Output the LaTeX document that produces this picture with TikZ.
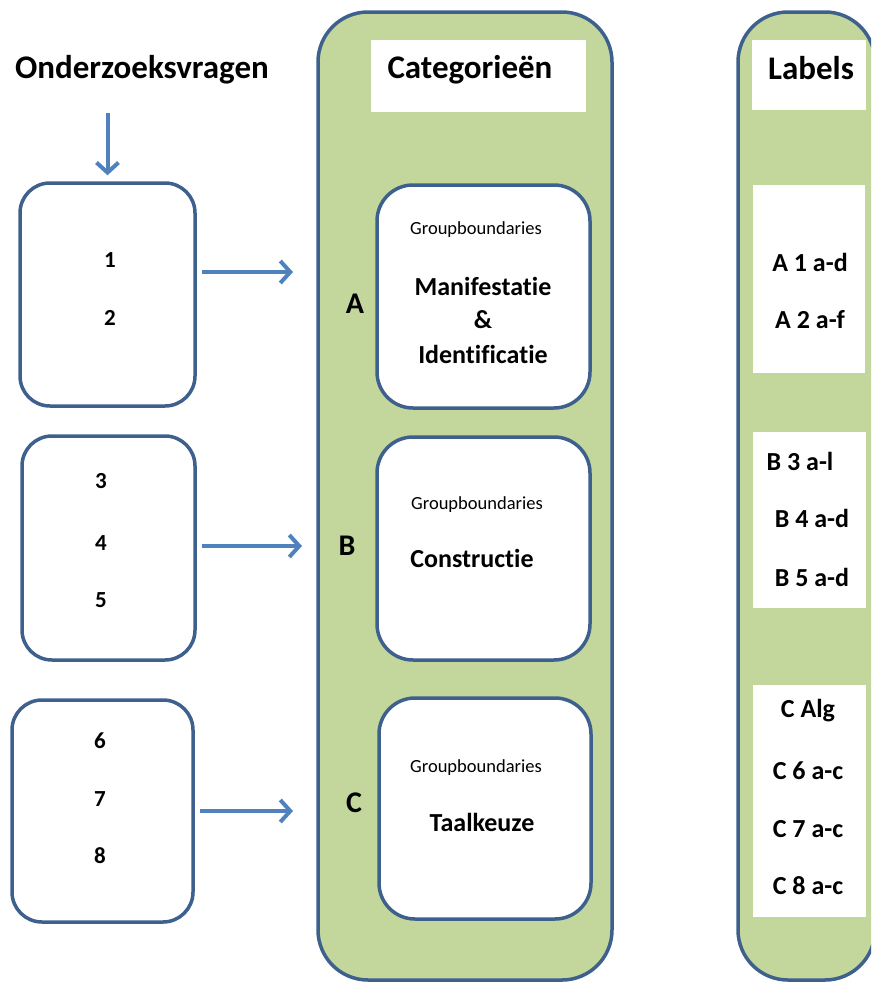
\documentclass[tikz,border=0pt]{standalone}
\usepackage{fontspec}
\setmainfont[Ligatures=CommonOff]{Carlito}
\usetikzlibrary{arrows.meta}
\definecolor{bordc}{RGB}{62,96,140}
\definecolor{arrc}{RGB}{79,129,189}
\definecolor{greenc}{RGB}{195,214,155}
\tikzset{
  qbox/.style={draw=bordc, line width=3.5pt, fill=white, rounded corners=30pt, inner sep=0pt},
  catbox/.style={draw=bordc, line width=3.5pt, fill=white, rounded corners=36pt, inner sep=0pt},
  panel/.style={draw=bordc, line width=3.5pt, fill=greenc, rounded corners=50pt, inner sep=0pt},
  wrect/.style={fill=white, draw=none, inner sep=0pt},
  arr/.style={draw=arrc, line width=4pt, -{Straight Barb[length=10pt,width=22pt,line width=4pt]}},
  bigt/.style={font=\fontsize{33}{38}\selectfont\bfseries, inner sep=0pt},
  numt/.style={font=\fontsize{23}{27}\selectfont\bfseries, inner sep=0pt},
  catt/.style={font=\fontsize{26}{30}\selectfont\bfseries, inner sep=0pt},
  smallt/.style={font=\fontsize{18.5}{22}\selectfont, inner sep=0pt},
  lett/.style={font=\fontsize{30}{34}\selectfont\bfseries, inner sep=0pt},
  labt/.style={font=\fontsize{26}{30}\selectfont\bfseries, inner sep=0pt}
}
\begin{document}
\begin{tikzpicture}[x=1pt,y=-1pt]
\useasboundingbox (0,0) rectangle (871,983);
\clip (0,0) rectangle (871,983);
% left boxes
\node[qbox, minimum width=175pt, minimum height=223pt] (q1) at (107.5,294.5) {};
\node[qbox, minimum width=173pt, minimum height=224pt] (q2) at (108.5,548) {};
\node[qbox, minimum width=181pt, minimum height=222pt] (q3) at (102.5,811) {};
\node[bigt] (onder) at (142,70) {Onderzoeksvragen};
\node[numt] (n1) at (110,260) {1};
\node[numt] (n2) at (110,318) {2};
\node[numt] (n3) at (101,481) {3};
\node[numt] (n4) at (101,543) {4};
\node[numt] (n5) at (101,600) {5};
\node[numt] (n6) at (100,741) {6};
\node[numt] (n7) at (100,799) {7};
\node[numt] (n8) at (100,856) {8};
% middle panel
\node[panel, minimum width=294pt, minimum height=968pt] (mid) at (465,496) {};
\node[wrect, minimum width=215pt, minimum height=72pt] (cattitle) at (478.5,76) {};
\node[bigt] (catlab) at (470,70) {Categorieën};
\node[catbox, minimum width=213pt, minimum height=223pt] (ca) at (483.5,296.5) {};
\node[catbox, minimum width=213pt, minimum height=223pt] (cb) at (483.5,548.5) {};
\node[catbox, minimum width=212pt, minimum height=221pt] (cc) at (485,808.5) {};
\node[lett] (la) at (355,304) {A};
\node[lett] (lb) at (347,546) {B};
\node[lett] (lc) at (354,803) {C};
\node[smallt] (ga) at (476,230) {Groupboundaries};
\node[catt] (ma1) at (483,286) {Manifestatie};
\node[catt] (ma2) at (483,320) {\&};
\node[catt] (ma3) at (483,354) {Identificatie};
\node[smallt] (gb) at (477,505) {Groupboundaries};
\node[catt] (cons) at (472,558) {Constructie};
\node[smallt] (gc) at (476,768) {Groupboundaries};
\node[catt] (taal) at (482,822) {Taalkeuze};
% right panel
\node[panel, minimum width=137pt, minimum height=968pt] (rp) at (806.5,496) {};
\node[wrect, minimum width=114pt, minimum height=70pt] (labtitle) at (809,75) {};
\node[bigt] (labl) at (811,68) {Labels};
\node[wrect, minimum width=112pt, minimum height=188pt] (ra) at (809,279) {};
\node[wrect, minimum width=113pt, minimum height=176pt] (rb) at (809.5,520) {};
\node[wrect, minimum width=113pt, minimum height=232pt] (rc) at (809.5,801) {};
\node[labt] (a1) at (810,262) {A 1 a-d};
\node[labt] (a2) at (810,320) {A 2 a-f};
\node[labt] (b3) at (800,461) {B 3 a-l};
\node[labt] (b4) at (812,518) {B 4 a-d};
\node[labt] (b5) at (812,577) {B 5 a-d};
\node[labt] (c0) at (808,711) {C Alg};
\node[labt] (c6) at (808,771) {C 6 a-c};
\node[labt] (c7) at (808,829) {C 7 a-c};
\node[labt] (c8) at (808,886) {C 8 a-c};
% arrows
\coordinate (dtop) at (107.5,113);
\coordinate (e1) at (293,272);
\coordinate (e2) at (302,546);
\coordinate (e3) at (293,811);
\draw[arr, shorten >=6pt] (dtop) -- (q1.north);
\draw[arr, shorten <=5pt] (q1.east |- e1) -- (e1);
\draw[arr, shorten <=5pt] (q2.east |- e2) -- (e2);
\draw[arr, shorten <=5pt] (q3.east |- e3) -- (e3);
\end{tikzpicture}
\end{document}
